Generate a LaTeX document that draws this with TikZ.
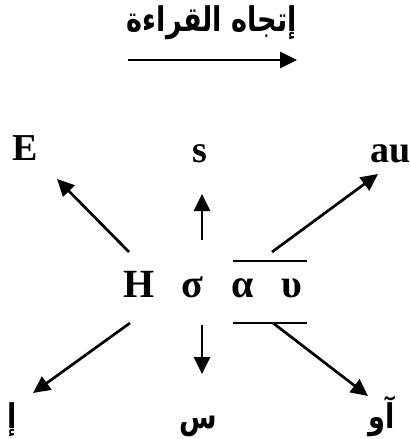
\documentclass[tikz,border=0pt]{standalone}
\usepackage{fontspec}
\setmainfont{Liberation Serif}
\newfontfamily\arabicfont[Script=Arabic,FakeStretch=0.8]{DejaVu Sans}
\TeXXeTstate=1
\usetikzlibrary{arrows.meta}

\begin{document}
\begin{tikzpicture}[x=1pt,y=-1pt,
    letter/.style={anchor=base,inner sep=0pt,font=\fontsize{38}{44}\selectfont\bfseries},
    rootletter/.style={anchor=base,inner sep=0pt,font=\fontsize{40}{46}\selectfont\bfseries},
    arlabel/.style={anchor=base,inner sep=0pt,font=\fontsize{34}{40}\selectfont\arabicfont\bfseries},
    ray/.style={line width=2.7pt,-{Triangle[length=17pt,width=16pt]}}]
  \useasboundingbox (0,0) rectangle (411,439);
  % reading direction
  \node[arlabel] (title) at (212,31) {\beginR إتجاه القراءة\endR};
  \coordinate (rdL) at (128,60);
  \coordinate (rdR) at (297,60);
  \draw[ray] (rdL) -- (rdR);
  % the word
  \node[rootletter] (H) at (139,297) {H};
  \node[rootletter] (sigma) at (192,297) {σ};
  \node[rootletter] (alpha) at (243,297) {α};
  \node[rootletter] (ups) at (292,297) {υ};
  \draw[line width=2.7pt] (233,261) coordinate (ovTL) -- (307,261) coordinate (ovTR);
  \draw[line width=2.7pt] (233,323) coordinate (ovBL) -- (307,323) coordinate (ovBR);
  % latin readings
  \node[letter] (E) at (25,160) {E};
  \node[letter] (s) at (200,162) {s};
  \node[letter] (au) at (391,162) {au};
  % arabic readings
  \node[arlabel] (hamza) at (12,428) {\beginR إ\endR};
  \node[arlabel] (sin) at (198,428) {\beginR س\endR};
  \node[arlabel] (aw) at (382,428) {\beginR آو\endR};
  % rays out of the word
  \coordinate (fE) at (129,252);   \coordinate (tE) at (57,179);
  \coordinate (fs) at (202,240);   \coordinate (ts) at (202,194);
  \coordinate (fau) at (272,252);  \coordinate (tau) at (378,174);
  \coordinate (fha) at (130,323);  \coordinate (tha) at (33,393);
  \coordinate (fsin) at (202,325); \coordinate (tsin) at (202,374);
  \coordinate (faw) at (273,323);  \coordinate (taw) at (368,396);
  \foreach \a/\b in {fE/tE,fs/ts,fau/tau,fha/tha,fsin/tsin,faw/taw}
    \draw[ray] (\a) -- (\b);
\end{tikzpicture}
\end{document}
